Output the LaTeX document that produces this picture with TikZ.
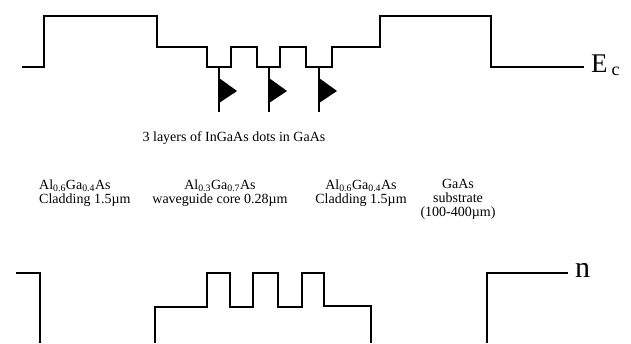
\documentclass[tikz,border=0pt]{standalone}
\usepackage{fontspec}
\setmainfont{Liberation Serif}
\begin{document}
\begin{tikzpicture}[x=1pt, y=-1pt, line join=miter]
    \tikzstyle{profile} = [line width=2.8pt]
    \tikzstyle{dotline} = [line width=1.6pt]
    \tikzstyle{dotflag} = [fill=black]
    \tikzstyle{layer} = [font=\fontsize{14}{14}\selectfont, inner sep=0pt,
	anchor=north]
	\useasboundingbox (0,0) rectangle (631,343);

	% conduction band edge
	\draw[profile] (22,67) -- (44,67) -- (44,16) -- (157,16) -- (157,47)
		-- (207,47) -- (207,67) -- (231,67) -- (231,47) -- (257,47)
		-- (257,67) -- (280,67) -- (280,47) -- (306,47) -- (306,67)
		-- (332,67) -- (332,47) -- (380,47) -- (380,16) -- (491,16)
		-- (491,67) -- (584,67);

	% dots in the wells
	\draw[dotline] (219,67) -- (219,112);
	\fill[dotflag] (219,78) -- (237,91) -- (219,103) -- cycle;
	\draw[dotline] (269,67) -- (269,112);
	\fill[dotflag] (269,78) -- (287,91) -- (269,103) -- cycle;
	\draw[dotline] (319,67) -- (319,112);
	\fill[dotflag] (319,78) -- (337,91) -- (319,103) -- cycle;

	% refractive index
	\draw[profile] (16,273) -- (40,273) -- (40,343);
	\draw[profile] (155,343) -- (155,307) -- (207,307) -- (207,273)
		-- (230,273) -- (230,307) -- (253,307) -- (253,273) -- (278,273)
		-- (278,307) -- (302,307) -- (302,273) -- (324,273) -- (324,306)
		-- (371,306) -- (371,343);
	\draw[profile] (487,343) -- (487,273) -- (568,273);

	\path
		node[anchor=base west, inner sep=0pt] (ec) at (591,72)
			{{\fontsize{27}{30}\selectfont E}\hspace{4pt}\raisebox{-3pt}{\fontsize{18}{20}\selectfont c}}
		node[anchor=base west, inner sep=0pt] (n) at (575,277)
			{\fontsize{30}{32}\selectfont n}
		node[layer, anchor=base] (dots) at (234,141) {3 layers of InGaAs dots in GaAs}
		node[layer, anchor=north west, align=left] (clad1) at (39,179.5)
			{Al\textsubscript{0.6}Ga\textsubscript{0.4}As\\Cladding 1.5µm}
		node[layer, align=center] (core) at (220,179.5)
			{Al\textsubscript{0.3}Ga\textsubscript{0.7}As\\waveguide core 0.28µm}
		node[layer, align=center] (clad2) at (361,179.5)
			{Al\textsubscript{0.6}Ga\textsubscript{0.4}As\\Cladding 1.5µm}
		node[layer, align=center] (subs) at (458,179.5)
			{GaAs\\substrate\\(100-400µm)}
		;

\end{tikzpicture}
\end{document}
